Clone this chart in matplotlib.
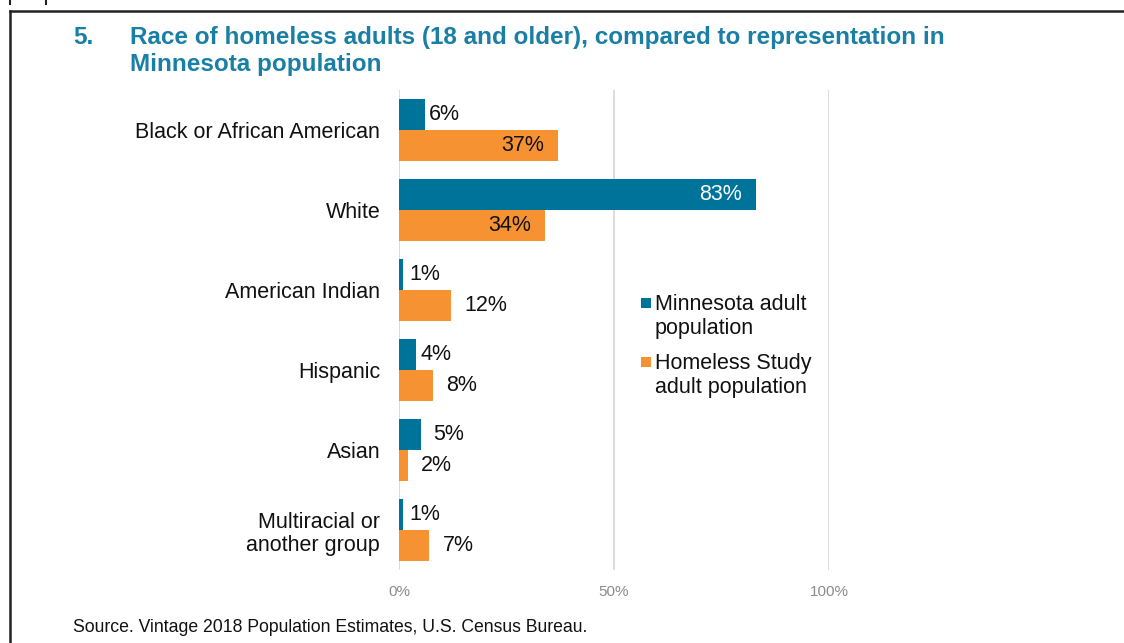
import matplotlib
matplotlib.use("Agg")
import matplotlib.pyplot as plt
from matplotlib.lines import Line2D
from matplotlib.patches import Rectangle

plt.rcParams['font.family'] = ['Liberation Sans', 'DejaVu Sans']

categories = ["Black or African American", "White", "American Indian", "Hispanic",
              "Asian", "Multiracial or\nanother group"]
mn_values = [6, 83, 1, 4, 5, 1]
hs_values = [37, 34, 12, 8, 2, 7]
series_names = ["Minnesota adult\npopulation", "Homeless Study\nadult population"]
tick_values = [0, 50, 100]
tick_labels = ["0%", "50%", "100%"]
title_num = "5."
title_text = "Race of homeless adults (18 and older), compared to representation in\nMinnesota population"
source_text = "Source. Vintage 2018 Population Estimates, U.S. Census Bureau."

BLUE = "#00739A"
ORANGE = "#F79232"
TITLE_C = "#1A7FA5"
series_colors = [BLUE, ORANGE]

W, H = 1124, 643
fig = plt.figure(figsize=(W / 100, H / 100), dpi=100)

ax_l, ax_r, ax_t, ax_b = 399, 829, 90, 570
ax = fig.add_axes([ax_l / W, 1 - ax_b / H, (ax_r - ax_l) / W, (ax_b - ax_t) / H])

n = len(categories)
ys = list(range(n))
bh = 0.39
ax.barh([y - bh / 2 for y in ys], mn_values, height=bh, color=BLUE, zorder=3)
ax.barh([y + bh / 2 for y in ys], hs_values, height=bh, color=ORANGE, zorder=3)

ax.set_xlim(0, 100)
ax.set_ylim(n - 0.5, -0.5)
ax.set_xticks(tick_values)
ax.set_xticklabels(tick_labels, color="#8C8C8C", fontsize=11)
ax.set_yticks(ys)
ax.set_yticklabels(categories, fontsize=15.5, color="#111111", linespacing=1.15)
ax.tick_params(axis='both', length=0)
ax.tick_params(axis='y', pad=13.5)
ax.tick_params(axis='x', pad=11)
for s in ax.spines.values():
    s.set_visible(False)
ax.grid(axis='x', color="#D9D9D9", linewidth=1.3, zorder=0)

# value labels (pixel offsets from bar end; negative = inside, right-aligned)
mn_off = [4, -14, 6, 4, 13, 6]
hs_off = [-14, -14, 14, 13, 13, 14]
FS = 15.5
for i in range(n):
    v = mn_values[i]
    o = mn_off[i]
    if o < 0:
        ax.annotate(f"{v}%", (v, i - bh / 2), xytext=(o, 0), textcoords="offset pixels",
                    ha="right", va="center", fontsize=FS, color="white", zorder=4)
    else:
        ax.annotate(f"{v}%", (v, i - bh / 2), xytext=(o, 0), textcoords="offset pixels",
                    ha="left", va="center", fontsize=FS, color="#111111", zorder=4)
    v = hs_values[i]
    o = hs_off[i]
    if o < 0:
        ax.annotate(f"{v}%", (v, i + bh / 2), xytext=(o, 0), textcoords="offset pixels",
                    ha="right", va="center", fontsize=FS, color="#111111", zorder=4)
    else:
        ax.annotate(f"{v}%", (v, i + bh / 2), xytext=(o, 0), textcoords="offset pixels",
                    ha="left", va="center", fontsize=FS, color="#111111", zorder=4)

# legend (square aligned with first text line, as in the original)
leg_top = [303, 362]
for name, col, yc in zip(series_names, series_colors, leg_top):
    fig.add_artist(Rectangle((641 / W, 1 - (yc + 5) / H), 10 / W, 10 / H,
                             facecolor=col, edgecolor="none", transform=fig.transFigure))
    fig.text(655 / W, 1 - (yc - 9) / H, name, fontsize=15.5, color="#111111",
             ha="left", va="top", linespacing=1.2)

fig.text(73 / W, 1 - 37 / H, title_num, fontsize=17.5, fontweight="bold", color=TITLE_C,
         va="center", ha="left")
fig.text(130 / W, 1 - 51 / H, title_text, fontsize=17.5, fontweight="bold", color=TITLE_C,
         va="center", ha="left", linespacing=1.2)

fig.text(73 / W, 1 - 628 / H, source_text, fontsize=12.7, color="#111111",
         va="center", ha="left")

# frame lines
fig.add_artist(Line2D([10 / W, 1], [1 - 11 / H, 1 - 11 / H], color="#222222", lw=1.8))
fig.add_artist(Line2D([10 / W, 10 / W], [0, 1 - 11 / H], color="#222222", lw=1.8))
fig.add_artist(Line2D([10 / W, 10 / W], [1 - 0 / H, 1 - 4 / H], color="#222222", lw=1.5))
fig.add_artist(Line2D([46 / W, 46 / W], [1 - 0 / H, 1 - 4 / H], color="#222222", lw=1.5))

fig.savefig("out.png", dpi=100)
